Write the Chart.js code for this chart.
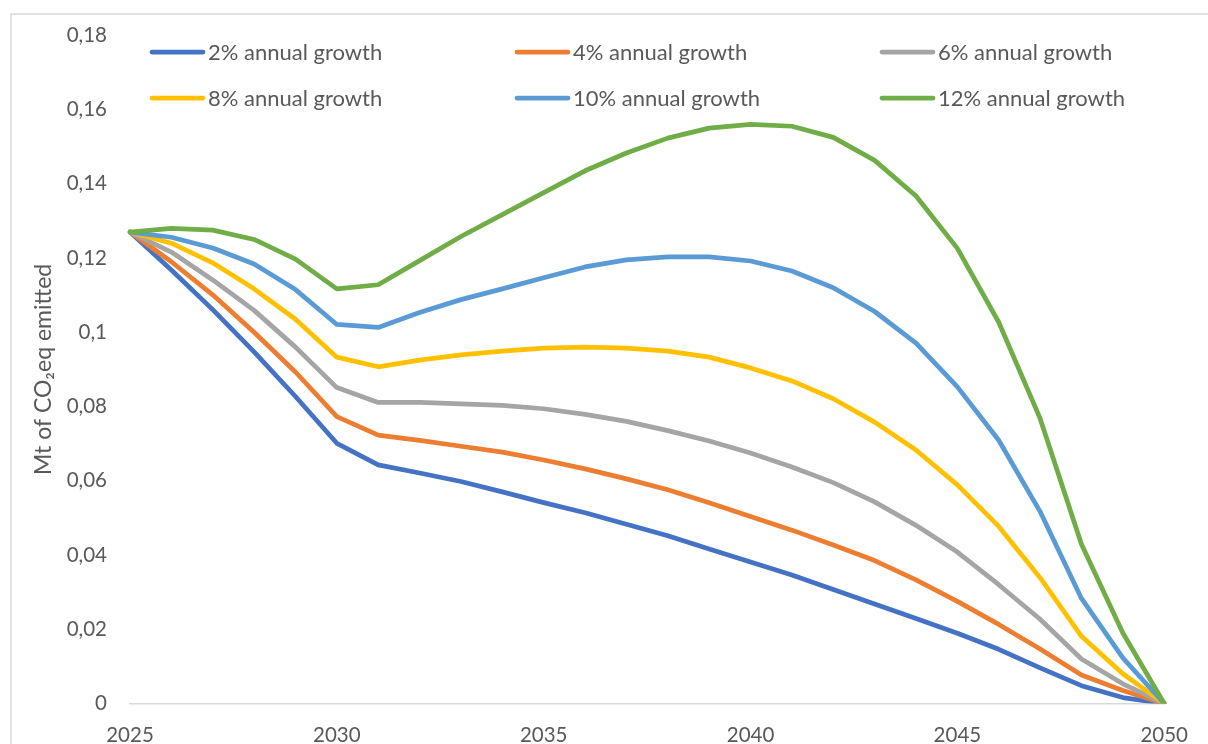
<!DOCTYPE html>
<html>
<head>
<meta charset="utf-8">
<script src="https://cdn.jsdelivr.net/npm/chart.js@4.4.1/dist/chart.umd.min.js"></script>
<style>
  html, body { margin: 0; padding: 0; background: #ffffff; }
  #wrap { position: relative; width: 1208px; height: 744px; overflow: hidden; }
  canvas { display: block; }
</style>
</head>
<body>
<div id="wrap"><canvas id="chart" width="1208" height="744"></canvas></div>
<script>
// Years on the horizontal axis
const years = [2025, 2026, 2027, 2028, 2029, 2030, 2031, 2032, 2033, 2034, 2035, 2036, 2037,
               2038, 2039, 2040, 2041, 2042, 2043, 2044, 2045, 2046, 2047, 2048, 2049, 2050];

// Emissions (Mt CO2eq) per scenario of annual growth
const growth2 = [0.127, 0.1168, 0.1061, 0.0947, 0.0827, 0.0701, 0.0643, 0.0621, 0.0598, 0.0570,
                 0.0541, 0.0514, 0.0483, 0.0452, 0.0416, 0.0381, 0.0346, 0.0307, 0.0268, 0.0229,
                 0.0189, 0.0146, 0.0096, 0.0048, 0.0016, 0];
const growth4 = [0.127, 0.1190, 0.1101, 0.1000, 0.0893, 0.0773, 0.0723, 0.0709, 0.0693, 0.0677,
                 0.0656, 0.0632, 0.0605, 0.0576, 0.0541, 0.0504, 0.0467, 0.0427, 0.0385, 0.0333,
                 0.0275, 0.0213, 0.0147, 0.0077, 0.0035, 0];
const growth6 = [0.127, 0.1216, 0.1141, 0.1059, 0.0960, 0.0851, 0.0811, 0.0811, 0.0807, 0.0803,
                 0.0794, 0.0779, 0.0760, 0.0735, 0.0707, 0.0675, 0.0637, 0.0595, 0.0543, 0.0480,
                 0.0408, 0.0320, 0.0227, 0.0120, 0.0053, 0];
const growth8 = [0.127, 0.1240, 0.1187, 0.1117, 0.1035, 0.0933, 0.0907, 0.0925, 0.0939, 0.0949,
                 0.0957, 0.0960, 0.0957, 0.0949, 0.0933, 0.0904, 0.0869, 0.0821, 0.0758, 0.0683,
                 0.0589, 0.0477, 0.0339, 0.0181, 0.0080, 0];
const growth10 = [0.127, 0.1256, 0.1227, 0.1184, 0.1115, 0.1021, 0.1013, 0.1053, 0.1088, 0.1117,
                  0.1147, 0.1176, 0.1195, 0.1203, 0.1203, 0.1192, 0.1165, 0.1120, 0.1056, 0.0971,
                  0.0853, 0.0709, 0.0517, 0.0283, 0.0123, 0];
const growth12 = [0.127, 0.1280, 0.1275, 0.1250, 0.1197, 0.1117, 0.1128, 0.1193, 0.1258, 0.1317,
                  0.1376, 0.1435, 0.1483, 0.1523, 0.1550, 0.1560, 0.1555, 0.1525, 0.1463, 0.1367,
                  0.1226, 0.1027, 0.0768, 0.0429, 0.0190, 0];

const seriesNames = ['2% annual growth', '4% annual growth', '6% annual growth',
                     '8% annual growth', '10% annual growth', '12% annual growth'];
const seriesValues = [growth2, growth4, growth6, growth8, growth10, growth12];
const seriesColors = ['#4472C4', '#ED7D31', '#A5A5A5', '#FFC000', '#5B9BD5', '#70AD47'];

// Vertical axis range
const yMin = 0;
const yMax = 0.18;
const yStep = 0.02;

const FONT = 'Lato, "Open Sans", sans-serif';
const TEXT_COLOR = '#595959';

const datasets = seriesValues.map((vals, i) => ({
  label: seriesNames[i],
  data: vals,
  borderColor: seriesColors[i],
  backgroundColor: seriesColors[i],
  borderWidth: 4.75,
  borderJoinStyle: 'round',
  borderCapStyle: 'round',
  pointRadius: 0,
  tension: 0,
  fill: false,
  order: seriesValues.length - i   // later series are painted above earlier ones
}));

// Outer frame of the chart
const framePlugin = {
  id: 'frame',
  beforeDraw(chart) {
    const ctx = chart.ctx;
    ctx.save();
    ctx.strokeStyle = '#d9d9d9';
    ctx.lineWidth = 1.5;
    ctx.strokeRect(11, 14, 1400, 1000);
    ctx.restore();
  }
};

// Legend laid out in a 3-column grid inside the plot
const gridLegend = {
  id: 'gridLegend',
  afterDraw(chart) {
    const ctx = chart.ctx;
    const colX = [150, 515, 880];
    const rowY = [52, 98];
    ctx.save();
    ctx.font = '22px ' + FONT;
    ctx.textBaseline = 'middle';
    ctx.textAlign = 'left';
    chart.data.datasets.forEach((ds, i) => {
      const x = colX[i % 3];
      const y = rowY[Math.floor(i / 3)];
      ctx.strokeStyle = ds.borderColor;
      ctx.lineWidth = 4.75;
      ctx.lineCap = 'round';
      ctx.beginPath();
      ctx.moveTo(x + 2, y);
      ctx.lineTo(x + 53, y);
      ctx.stroke();
      ctx.fillStyle = TEXT_COLOR;
      ctx.fillText(ds.label, x + 58, y + 1);
    });
    ctx.restore();
  }
};

new Chart(document.getElementById('chart'), {
  type: 'line',
  data: { labels: years, datasets: datasets },
  plugins: [framePlugin, gridLegend],
  options: {
    responsive: false,
    animation: false,
    layout: { padding: { left: 30, right: 32, top: 28, bottom: 0 } },
    plugins: {
      legend: { display: false },
      tooltip: { enabled: false }
    },
    scales: {
      x: {
        type: 'category',
        offset: false,
        grid: { display: false, drawTicks: false },
        border: { display: true, color: '#d9d9d9', width: 1.5 },
        ticks: {
          autoSkip: false,
          maxRotation: 0,
          padding: 20,
          color: TEXT_COLOR,
          font: { family: FONT, size: 20.5 },
          callback: function (val, idx) {
            const yr = years[idx];
            return yr % 5 === 0 ? String(yr) : null;
          }
        },
        afterFit(scale) { scale.height = 40.5; }
      },
      y: {
        min: yMin,
        max: yMax,
        grid: { display: false, drawTicks: false },
        border: { display: false },
        ticks: {
          stepSize: yStep,
          padding: 23,
          color: TEXT_COLOR,
          font: { family: FONT, size: 20.5 },
          callback: function (v) {
            return String(Number(v.toFixed(2))).replace('.', ',');
          }
        },
        title: {
          display: true,
          text: 'Mt of CO₂eq emitted',
          color: TEXT_COLOR,
          font: { family: FONT, size: 23 },
          padding: 0
        },
        afterFit(scale) { scale.width = 100; }
      }
    }
  }
});
</script>
</body>
</html>
